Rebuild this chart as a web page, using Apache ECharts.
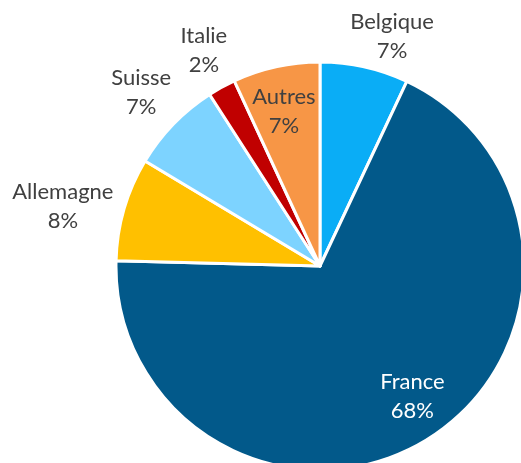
<!DOCTYPE html>
<html><head><meta charset="utf-8">
<script src="https://cdn.jsdelivr.net/npm/echarts@6/dist/echarts.min.js"></script>
<style>html,body{margin:0;padding:0;background:#fff}#c{width:521px;height:463px}</style>
</head><body><div id="c"></div>
<script>
const categories = ['Belgique', 'France', 'Allemagne', 'Suisse', 'Italie', 'Autres'];
const values = [7.0, 68.4, 8.2, 7.3, 2.2, 6.9];
const colors = ['#0AADF6', '#02598A', '#FFC000', '#7DD3FF', '#C00000', '#F79646'];

const CX = 320, CY = 266, R = 204;
// label placement: radial distance and angle tweak (degrees) per slice
const labelDist = [241, 160, 264, 249, 245, 159];
const labelTweak = [4.8, -3.6, -3.1, 0, 0.5, -0.7];
const labelColors = ['#404040', '#ffffff', '#404040', '#404040', '#404040', '#404040'];

const total = values.reduce((a, b) => a + b, 0);
const midAngles = [];
let acc = 0;
values.forEach(v => { midAngles.push((acc + v / 2) / total * 360); acc += v; });

const chart = echarts.init(document.getElementById('c'));
const data = categories.map((c, i) => ({
  name: c, value: values[i],
  itemStyle: { color: colors[i] },
  label: { color: labelColors[i] }
}));
chart.setOption({
  animation: false,
  series: [{
    type: 'pie',
    center: [CX, CY],
    radius: R,
    startAngle: 90,
    clockwise: true,
    data: data,
    itemStyle: { borderColor: '#ffffff', borderWidth: 3 },
    label: {
      position: 'outside',
      overflow: 'none',
      fontFamily: 'Lato', fontSize: 22, lineHeight: 29, align: 'center',
      formatter: p => p.name + '\n' + Math.round(p.percent) + '%'
    },
    labelLine: { show: false },
    labelLayout: p => {
      const i = p.dataIndex;
      const a = (midAngles[i] + labelTweak[i]) * Math.PI / 180;
      return {
        x: CX + labelDist[i] * Math.sin(a),
        y: CY - labelDist[i] * Math.cos(a),
        align: 'center', verticalAlign: 'middle'
      };
    }
  }]
});
</script></body></html>
